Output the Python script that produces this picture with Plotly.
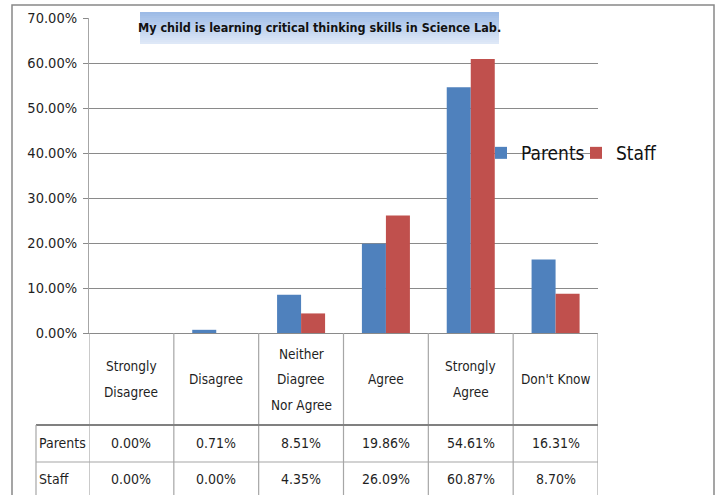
import plotly.graph_objects as go

categories = ["Strongly Disagree", "Disagree", "Neither Diagree Nor Agree",
              "Agree", "Strongly Agree", "Don't Know"]
header_lines = [["Strongly", "Disagree"], ["Disagree"], ["Neither", "Diagree", "Nor Agree"],
                ["Agree"], ["Strongly", "Agree"], ["Don't Know"]]
parents = [0.0, 0.0071, 0.0851, 0.1986, 0.5461, 0.1631]
staff = [0.0, 0.0, 0.0435, 0.2609, 0.6087, 0.0870]
series_names = ["Parents", "Staff"]
title_text = "My child is learning critical thinking skills in Science Lab."
y_ticks = [0, 0.1, 0.2, 0.3, 0.4, 0.5, 0.6, 0.7]

FONT = "DejaVu Sans Condensed, DejaVu Sans, sans-serif"
TXT = "#1f1f1f"
GRID = "#8a8a8a"

W, H = 721, 495
# plot area in window pixels: x 89..598, y 18..333
PX0, PX1, PY0, PY1 = 89, 598, 18, 333
L, R = PX0, W - PX1
T, B = PY0, H - PY1
PW, PH = PX1 - PX0, PY1 - PY0


def px_x(px):
    return (px - PX0) / PW


def px_y(py):
    return (PY1 - py) / PH


fig = go.Figure()
fig.add_trace(go.Bar(x=categories, y=parents, name=series_names[0],
                     marker=dict(color="#4F81BD", line=dict(width=0))))
fig.add_trace(go.Bar(x=categories, y=staff, name=series_names[1],
                     marker=dict(color="#C0504D", line=dict(width=0))))

shapes = []
annotations = []

# outer chart border
shapes.append(dict(type="rect", xref="paper", yref="paper",
                   x0=px_x(12), x1=px_x(714), y0=px_y(520), y1=px_y(5),
                   line=dict(color="#888888", width=1.5), layer="below"))

# title box with vertical gradient
bx0, bx1, by0, by1 = 140, 499, 12, 44
nb = 16
c_top = (157, 187, 230)
c_bot = (222, 232, 247)
for i in range(nb):
    f = i / (nb - 1)
    col = tuple(int(round(c_top[k] + (c_bot[k] - c_top[k]) * f)) for k in range(3))
    ya = by0 + (by1 - by0) * i / nb
    yb = by0 + (by1 - by0) * (i + 1) / nb
    shapes.append(dict(type="rect", xref="paper", yref="paper",
                       x0=px_x(bx0), x1=px_x(bx1), y0=px_y(yb), y1=px_y(ya),
                       fillcolor="rgb(%d,%d,%d)" % col, line=dict(width=0),
                       layer="above"))
annotations.append(dict(xref="paper", yref="paper", x=px_x((bx0 + bx1) / 2),
                        y=px_y((by0 + by1) / 2 - 1), text="<b>%s</b>" % title_text,
                        showarrow=False, xanchor="center", yanchor="middle",
                        font=dict(family=FONT, size=12.5, color="#111")))

# data table
n = len(categories)
y_hdr_bot = px_y(425)
y_row_mid = px_y(462)
y_bottom = px_y(520)
for i in range(n + 1):
    shapes.append(dict(type="line", xref="x", yref="paper",
                       x0=i - 0.5, x1=i - 0.5, y0=0, y1=y_bottom,
                       line=dict(color="#a6a6a6", width=1.2)))
shapes.append(dict(type="line", xref="paper", yref="paper",
                   x0=px_x(36), x1=1, y0=y_hdr_bot, y1=y_hdr_bot,
                   line=dict(color="#808080", width=2)))
shapes.append(dict(type="line", xref="paper", yref="paper",
                   x0=px_x(36), x1=1, y0=y_row_mid, y1=y_row_mid,
                   line=dict(color="#a6a6a6", width=1.2)))
shapes.append(dict(type="line", xref="paper", yref="paper",
                   x0=px_x(36), x1=px_x(36), y0=y_hdr_bot, y1=y_bottom,
                   line=dict(color="#a6a6a6", width=1.2)))

LINE_H = 25.5
for c, lines in zip(categories, header_lines):
    k = len(lines)
    for j, ln in enumerate(lines):
        yc = 379 + (j - (k - 1) / 2) * LINE_H
        annotations.append(dict(xref="x", yref="paper", x=c, y=px_y(yc),
                                text=ln, showarrow=False, xanchor="center",
                                yanchor="middle",
                                font=dict(family=FONT, size=13.5, color=TXT)))

for row, (name, vals) in enumerate(zip(series_names, [parents, staff])):
    ymid = px_y(443 if row == 0 else 479)
    annotations.append(dict(xref="paper", yref="paper", x=px_x(37), y=ymid,
                            text=name, showarrow=False, xanchor="left",
                            yanchor="middle",
                            font=dict(family=FONT, size=14, color=TXT)))
    for c, v in zip(categories, vals):
        annotations.append(dict(xref="x", yref="paper", x=c, y=ymid,
                                text="%.2f%%" % (v * 100), showarrow=False,
                                xanchor="center", yanchor="middle",
                                font=dict(family=FONT, size=14, color=TXT)))

fig.update_layout(
    width=W, height=H,
    margin=dict(l=L, r=R, t=T, b=B, pad=0, autoexpand=False),
    paper_bgcolor="white", plot_bgcolor="white",
    barmode="group", bargap=0.434, bargroupgap=0,
    showlegend=True,
    legend=dict(orientation="h", x=px_x(481), y=px_y(153), xanchor="left",
                yanchor="middle", bgcolor="rgba(0,0,0,0)",
                font=dict(family=FONT, size=19, color="#111"),
                traceorder="normal", itemwidth=30, entrywidth=50),
    xaxis=dict(showticklabels=False, showgrid=False, ticks="",
               showline=True, linecolor=GRID, linewidth=1,
               range=[-0.5, n - 0.5], fixedrange=True),
    yaxis=dict(range=[0, 0.7], tickvals=y_ticks, tickformat=".2%",
               showgrid=True, gridcolor=GRID, gridwidth=1,
               showline=True, linecolor="#a6a6a6", linewidth=1,
               ticks="outside", ticklen=5, tickcolor=GRID,
               ticklabelstandoff=3,
               tickfont=dict(family=FONT, size=14.5, color=TXT),
               zeroline=False, fixedrange=True),
    shapes=shapes, annotations=annotations,
)

# remove the default 8px page margin so the figure fills the window exactly
fig.write_html("out.html",
               config={"displayModeBar": False},
               post_script="document.body.style.margin='0';"
                           "document.body.style.overflow='hidden';")
